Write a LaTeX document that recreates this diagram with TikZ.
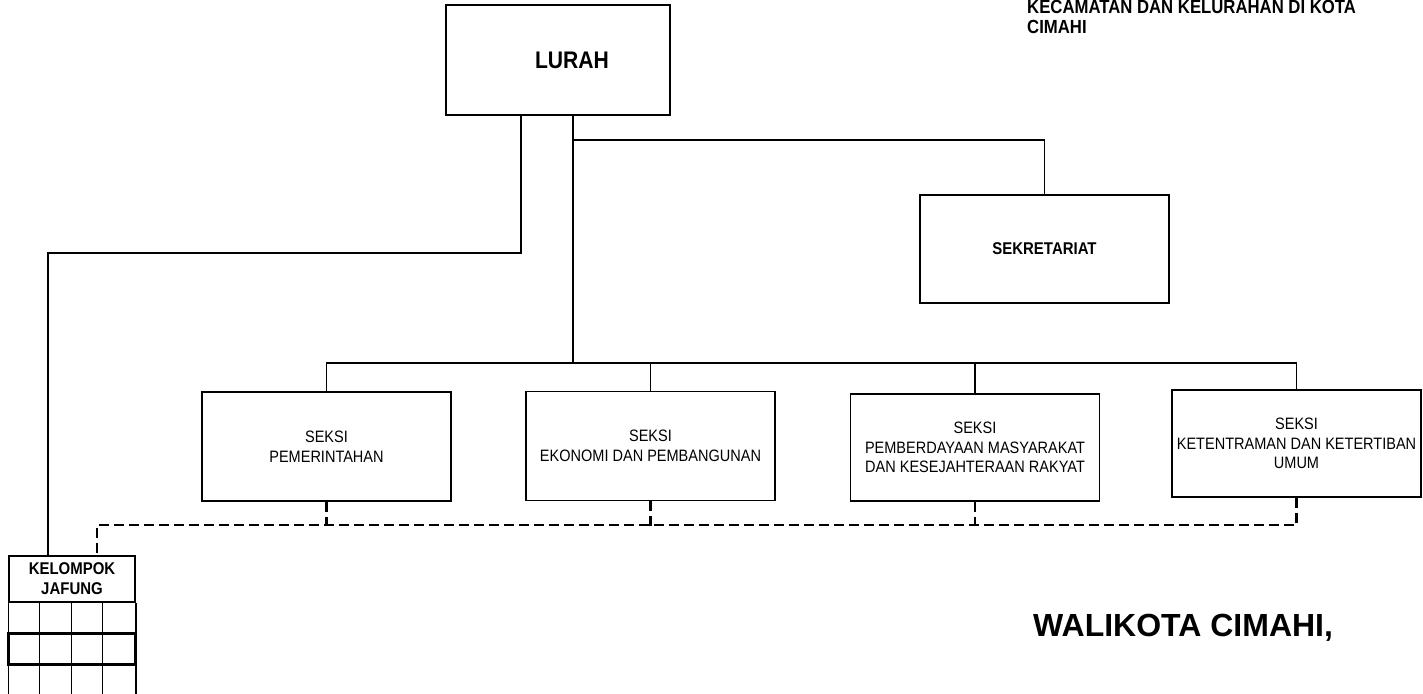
\documentclass[tikz,border=0pt]{standalone}
\usepackage{fontspec}
\setmainfont{Liberation Sans}
\newfontfamily\orgfont[FakeStretch=0.88]{Liberation Sans}

\tikzset{
  orgbox/.style={draw, line width=1.3pt, inner sep=0pt, align=center},
  seksibox/.style={orgbox, minimum width=249pt, minimum height=109pt,
    font=\orgfont\fontsize{16.5}{19.5}\selectfont},
  boldtext/.style={font=\orgfont\bfseries\fontsize{17}{20}\selectfont},
  solidline/.style={line width=1.3pt},
  gridline/.style={line width=1.7pt},
  dashline/.style={line width=2.8pt, dash pattern=on 10pt off 5pt},
}

\begin{document}
\begin{tikzpicture}[x=1pt, y=-1pt]
  \useasboundingbox (0,0) rectangle (1423,693);

  % boxes
  \node[orgbox, minimum width=224pt, minimum height=110pt] (lurah) at (558,60) {};
  \node[font=\orgfont\bfseries\fontsize{24}{24}\selectfont] (lurahtext) at (572,60) {LURAH};
  \node[orgbox, boldtext, minimum width=249pt, minimum height=108pt] (sekre) at (1044.5,249) {SEKRETARIAT};
  \node[seksibox] (pem) at (326.5,446.5) {SEKSI\\PEMERINTAHAN};
  \node[seksibox] (eko) at (650.5,446) {SEKSI\\EKONOMI DAN PEMBANGUNAN};
  \node[seksibox, minimum height=107pt] (pmk) at (975,447.5) {SEKSI\\PEMBERDAYAAN MASYARAKAT\\DAN KESEJAHTERAAN RAKYAT};
  \node[seksibox, minimum height=107pt] (trantib) at (1296.5,443.5) {SEKSI\\KETENTRAMAN DAN KETERTIBAN\\UMUM};
  \node[orgbox, boldtext, minimum width=126pt, minimum height=46pt] (jafung) at (72,579) {KELOMPOK\\JAFUNG};

  % jafung grid
  \draw[gridline] (jafung.south west) -- ++(0,91);
  \draw[gridline] ([xshift=31pt]jafung.south west) -- ++(0,91);
  \draw[gridline] ([xshift=63pt]jafung.south west) -- ++(0,91);
  \draw[gridline] ([xshift=94pt]jafung.south west) -- ++(0,91);
  \draw[gridline] (jafung.south east) -- ++(0,91);
  \draw[line width=2.4pt] ([yshift=-31pt]jafung.south west) rectangle ([yshift=-62pt]jafung.south east);

  % texts
  \node[anchor=north west, inner sep=0pt, align=left,
    font=\orgfont\bfseries\fontsize{19}{20}\selectfont] (kop) at (1027,0)
    {KECAMATAN DAN KELURAHAN DI KOTA\\CIMAHI};
  \node[anchor=base west, inner sep=0pt, font=\bfseries\fontsize{32}{32}\selectfont] (walikota) at (1033,636) {WALIKOTA CIMAHI,};

  % solid lines
  \coordinate (trunk) at (573,140);
  \coordinate (bus) at (573,363);
  \coordinate (side) at (521,253);
  \coordinate (jafungin) at (48,556);
  \draw[solidline] (lurah.south -| bus) -- (bus);
  \draw[solidline] (trunk) -| (sekre.north);
  \draw[solidline] (pem.north) |- (bus) -| (trantib.north);
  \draw[solidline] (eko.north) -- (eko.north |- bus);
  \draw[solidline] (pmk.north) -- (pmk.north |- bus);
  \draw[solidline] (lurah.south -| side) -- (side) -| (jafungin);

  % dashed lines
  \coordinate (dashbus) at (97,525);
  \draw[dashline] (trantib.south) |- (dashbus) -- (jafung.north -| dashbus);
  \draw[dashline] (pem.south) -- (pem.south |- dashbus);
  \draw[dashline] (eko.south) -- ([yshift=-5pt]eko.south |- dashbus);
  \draw[dashline] (pmk.south) -- (pmk.south |- dashbus);
\end{tikzpicture}
\end{document}
